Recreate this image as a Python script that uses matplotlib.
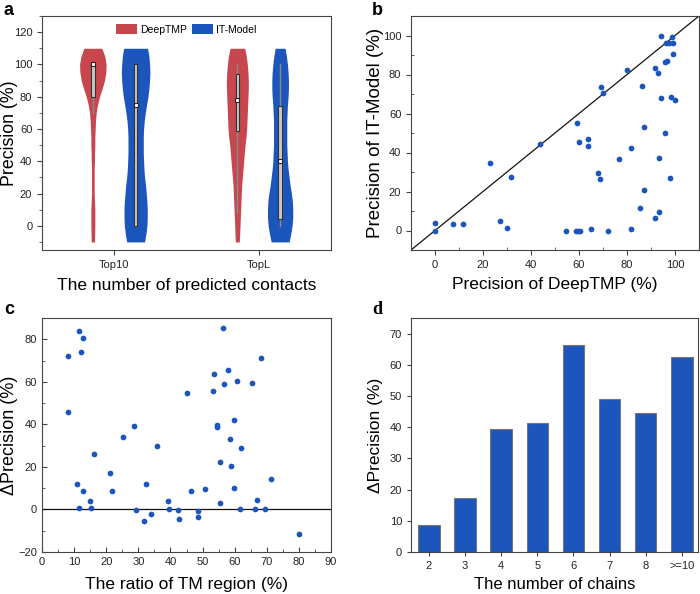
import numpy as np
import matplotlib.pyplot as plt
from matplotlib.ticker import MultipleLocator

plt.rcParams['font.family'] = ['Liberation Sans', 'DejaVu Sans']
plt.rcParams['axes.edgecolor'] = '#444444'
plt.rcParams['xtick.color'] = '#444444'
plt.rcParams['ytick.color'] = '#444444'
plt.rcParams['xtick.labelcolor'] = '#222222'
plt.rcParams['ytick.labelcolor'] = '#222222'

RED = '#c8474f'
BLUE = '#1c55bb'

# ---- panel a: violin outlines (relative half widths)
levels = [-10, -5, 0, 5, 10, 15, 20, 25, 30, 35, 40, 45, 50, 55, 60,
          65, 70, 75, 80, 85, 90, 95, 100, 105, 110]
w_top10_deep = [5, 5.5, 6, 6, 6, 5, 4, 4, 4, 4, 5, 5, 6, 6, 7,
                8, 10, 14, 20, 28, 35, 39, 40, 36, 27]
w_top10_it = [27, 31, 34, 35, 35, 34, 32, 30, 27, 25, 24, 23, 23, 23, 24,
              26, 29, 33, 37, 40, 42, 43, 42, 40, 36]
w_topl_deep = [6, 7, 8, 9, 10, 11, 12, 13, 15, 17, 19, 21, 23, 26, 28,
               29, 30, 31, 32, 33, 33, 32, 30, 27, 22]
w_topl_it = [27, 32, 36, 38, 38, 37, 34, 30, 27, 24, 22, 21, 20, 20, 20,
             20, 21, 22, 24, 25, 25, 24, 22, 19, 15]

groups = ['Top10', 'TopL']
# box stats: whisker low, q1, median, q3, whisker high
box_deep = [(70, 80, 100, 100, 100), (8, 59, 78, 94, 100)]
box_it = [(0, 0, 75, 100, 100), (0, 4, 40, 74, 100)]

# ---- panel b
deep_prec = [0, 0, 7.5, 11.7, 22.8, 26.9, 30.1, 31.8, 43.6, 54.7, 59.1, 58.6,
             59.7, 60.3, 59.9, 63.9, 63.9, 64.8, 68.0, 68.7, 69.2, 70.0, 71.9,
             76.6, 80.1, 81.6, 81.6, 85.5, 86.1, 86.9, 86.9, 91.5, 92.9, 91.5,
             93.2, 93.5, 94.0, 94.2, 96.0, 96.0, 96.8, 96.4, 97.5, 98.6, 98.2,
             97.9, 99.3, 99.3, 100.1]
it_prec = [0, 3.9, 3.2, 3.2, 34.6, 5.1, 1.2, 27.6, 44.2, 0, 55.1, 0,
           0, 0, 45.6, 46.8, 43.5, 1.0, 29.5, 26.5, 73.5, 70.5, 0,
           36.7, 82.4, 42.5, 1.0, 11.3, 74.1, 53.1, 21.0, 83.3, 81.0, 6.5,
           37.2, 9.7, 99.5, 67.9, 50.0, 86.2, 86.9, 96.4, 96.4, 99.0, 68.3,
           26.8, 96.4, 90.4, 67.1]

# ---- panel c
tm_ratio = [8.2, 8.2, 11.4, 12.0, 12.9, 10.8, 12.9, 11.6, 14.9, 15.2, 16.1,
            21.3, 21.9, 25.1, 28.8, 29.2, 31.7, 32.4, 34.0, 35.8, 39.3, 39.4,
            42.4, 42.7, 45.0, 46.4, 48.5, 48.5, 50.7, 53.1, 53.5, 54.5, 54.5,
            55.3, 55.4, 56.5, 56.7, 58.0, 58.6, 59.0, 59.7, 59.7, 60.7, 61.6,
            61.9, 65.3, 66.4, 66.8, 68.1, 69.6, 71.4, 80.0]
delta_prec = [72.0, 46.0, 83.7, 74.2, 80.6, 11.9, 8.6, 0.5, 4.2, 0.8, 26.1,
              17.1, 8.8, 34.0, 39.1, -0.3, -5.6, 11.9, -2.3, 30.0, 4.1, 0.0,
              -0.3, -4.5, 54.8, 8.8, -0.6, -3.6, 9.4, 55.7, 63.7, 39.9, 38.8,
              22.2, 3.0, 85.1, 58.8, 65.7, 32.9, 20.5, 42.1, 9.9, 60.4, 0.0,
              29.0, 59.5, 0.0, 4.4, 71.2, 0.0, 14.2, -11.6]

# ---- panel d
chains = ['2', '3', '4', '5', '6', '7', '8', '>=10']
delta_chain = [8.5, 17.3, 39.5, 41.5, 66.2, 49.0, 44.6, 62.6]

fig = plt.figure(figsize=(7, 5.94), dpi=100)
W, H = 700, 594


def add_ax(l, t, r, b):
    return fig.add_axes([l / W, 1 - b / H, (r - l) / W, (b - t) / H])


ax_a = add_ax(42, 16, 331, 250)
ax_b = add_ax(411, 16, 699, 250)
ax_c = add_ax(42, 318, 331, 552)
ax_d = add_ax(411, 318, 698, 552)

TICK = 8
XL = 12.5
YL = 13.5

# ---------------- a
scale = 1 / 435.0
off = 0.148
lv = np.array(levels)
for i, g in enumerate(groups):
    pos = i + 1
    prof_d = w_top10_deep if i == 0 else w_topl_deep
    prof_i = w_top10_it if i == 0 else w_topl_it
    for c, prof, col, bx in [(pos - off, prof_d, RED, box_deep[i]),
                             (pos + off, prof_i, BLUE, box_it[i])]:
        hw = np.array(prof) * scale
        ax_a.fill_betweenx(lv, c - hw, c + hw, color=col, lw=0, zorder=2)
        lo, q1, med, q3, hi = bx
        ax_a.plot([c, c], [lo, hi], color='#8a8a8a', lw=1, zorder=3)
        ax_a.add_patch(plt.Rectangle((c - 0.012, q1), 0.024, max(q3 - q1, 0.5),
                                     facecolor='#c9c9c9', edgecolor='#333333',
                                     lw=0.8, zorder=4))
        ax_a.plot(c, med, marker='s', ms=3.5, mfc='white', mec='#222222',
                  mew=0.8, zorder=5)
ax_a.set_xlim(0.5, 2.5)
ax_a.set_ylim(-15, 130)
ax_a.set_xticks([1, 2])
ax_a.set_xticklabels(groups)
ax_a.yaxis.set_minor_locator(MultipleLocator(10))
ax_a.set_yticks([0, 20, 40, 60, 80, 100, 120])
ax_a.tick_params(labelsize=TICK, direction='out', length=3.5)
ax_a.tick_params(which='minor', direction='out', length=2)
ax_a.set_xlabel('The number of predicted contacts', fontsize=XL)
ax_a.set_ylabel('Precision (%)', fontsize=12.8)
ax_a.xaxis.set_label_coords(0.5, -0.12)
ax_a.yaxis.set_label_coords(-0.083, 0.5)
hd = [plt.Rectangle((0, 0), 1, 1, facecolor=RED),
      plt.Rectangle((0, 0), 1, 1, facecolor=BLUE)]
ax_a.legend(hd, ['DeepTMP', 'IT-Model'], loc='upper center', ncol=2,
            frameon=False, fontsize=7.5, handlelength=2.0, handleheight=1.1,
            columnspacing=0.5, handletextpad=0.3, borderaxespad=0.4)

# ---------------- b
ax_b.plot([-10, 110], [-10, 110], color='#111111', lw=0.9, zorder=2)
ax_b.scatter(deep_prec, it_prec, s=17, color=BLUE, lw=0, zorder=3)
ax_b.set_xlim(-10, 110)
ax_b.set_ylim(-10, 110)
ax_b.xaxis.set_major_locator(MultipleLocator(20))
ax_b.yaxis.set_major_locator(MultipleLocator(20))
ax_b.xaxis.set_minor_locator(MultipleLocator(10))
ax_b.yaxis.set_minor_locator(MultipleLocator(10))
ax_b.tick_params(labelsize=TICK, direction='out', length=3.5)
ax_b.tick_params(which='minor', direction='in', length=2)
ax_b.set_xlabel('Precision of DeepTMP (%)', fontsize=XL)
ax_b.set_ylabel('Precision of IT-Model (%)', fontsize=YL)
ax_b.xaxis.set_label_coords(0.5, -0.115)
ax_b.yaxis.set_label_coords(-0.095, 0.5)

# ---------------- c
ax_c.axhline(0, color='#111111', lw=0.9, zorder=2)
ax_c.scatter(tm_ratio, delta_prec, s=17, color=BLUE, lw=0, zorder=3)
ax_c.set_xlim(0, 90)
ax_c.set_ylim(-20, 90)
ax_c.xaxis.set_major_locator(MultipleLocator(10))
ax_c.xaxis.set_minor_locator(MultipleLocator(5))
ax_c.yaxis.set_minor_locator(MultipleLocator(10))
ax_c.set_yticks([-20, 0, 20, 40, 60, 80])
ax_c.tick_params(labelsize=TICK, direction='in', length=3.5)
ax_c.tick_params(which='minor', direction='in', length=2)
ax_c.set_xlabel('The ratio of TM region (%)', fontsize=XL)
ax_c.set_ylabel('ΔPrecision (%)', fontsize=13)
ax_c.xaxis.set_label_coords(0.5, -0.107)
ax_c.yaxis.set_label_coords(-0.083, 0.5)

# ---------------- d
xd = np.arange(len(chains))
ax_d.bar(xd, delta_chain, width=0.6, color=BLUE, edgecolor='#777777',
         lw=0.8, zorder=2)
ax_d.set_xlim(-0.5, 7.45)
ax_d.set_ylim(0, 75)
ax_d.set_xticks(xd)
ax_d.set_xticklabels(chains)
ax_d.yaxis.set_major_locator(MultipleLocator(10))
ax_d.tick_params(labelsize=TICK, direction='out', length=3)
ax_d.set_xlabel('The number of chains', fontsize=12)
ax_d.set_ylabel('ΔPrecision (%)', fontsize=12.5)
ax_d.xaxis.set_label_coords(0.5, -0.107)
ax_d.yaxis.set_label_coords(-0.097, 0.5)

# panel letters
fig.text(4 / W, 1 - 2 / H, 'a', fontsize=13, fontweight='bold', va='top')
fig.text(372 / W, 1 - 2 / H, 'b', fontsize=13, fontweight='bold', va='top')
fig.text(4 / W, 1 - 301 / H, 'c', fontsize=13, fontweight='bold', va='top')
fig.text(372 / W, 1 - 301 / H, 'd', fontsize=13, fontweight='bold', va='top',
         family='Liberation Serif')

fig.savefig('out.png', dpi=100)
